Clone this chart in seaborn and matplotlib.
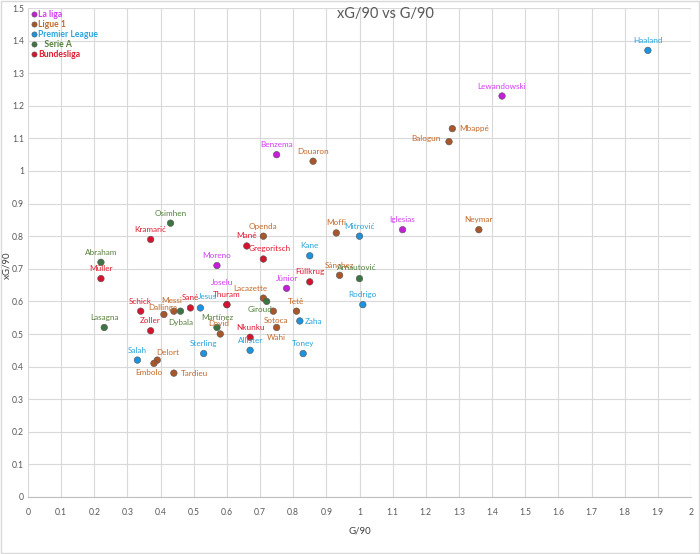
import pandas as pd
import seaborn as sns
from matplotlib import pyplot as plt
from matplotlib.ticker import MultipleLocator, FuncFormatter
from matplotlib.patches import Rectangle

sns.set_style('white')
plt.rcParams['font.family'] = ['Lato', 'DejaVu Sans']

# valeurs
leagues = ['La liga', 'Ligue 1', 'Premier League', 'Serie A', 'Bundesliga']

la_liga_names = ['Lewandowski', 'Iglesias', 'Benzema', 'Moreno', 'Júnior', 'Joselu']
la_liga_g = [1.43, 1.13, 0.75, 0.57, 0.78, 0.60]
la_liga_xg = [1.23, 0.82, 1.05, 0.71, 0.64, 0.59]

ligue1_names = ['Mbappé', 'Balogun', 'Neymar', 'Douaron', 'Openda', 'Moffi', 'Sánchez',
                'Lacazette', 'Tetê', 'Messi', 'Dallinga', 'Sotoca', 'Wahi', 'David',
                'Delort', 'Embolo', 'Tardieu']
ligue1_g = [1.28, 1.27, 1.36, 0.86, 0.71, 0.93, 0.94, 0.71, 0.81, 0.44, 0.41, 0.74, 0.75,
            0.58, 0.39, 0.38, 0.44]
ligue1_xg = [1.13, 1.09, 0.82, 1.03, 0.80, 0.81, 0.68, 0.61, 0.57, 0.57, 0.56, 0.57, 0.52,
             0.50, 0.42, 0.41, 0.38]

pl_names = ['Haaland', 'Mitrović', 'Kane', 'Rodrigo', 'Jesus', 'Zaha', 'Toney', 'Allister',
            'Sterling', 'Salah']
pl_g = [1.87, 1.00, 0.85, 1.01, 0.52, 0.82, 0.83, 0.67, 0.53, 0.33]
pl_xg = [1.37, 0.80, 0.74, 0.59, 0.58, 0.54, 0.44, 0.45, 0.44, 0.42]

serie_a_names = ['Osimhen', 'Abraham', 'Arnautović', 'Giroud', 'Dybala', 'Lasagna', 'Martínez']
serie_a_g = [0.43, 0.22, 1.00, 0.72, 0.46, 0.23, 0.57]
serie_a_xg = [0.84, 0.72, 0.67, 0.60, 0.57, 0.52, 0.52]

bl_names = ['Kramarić', 'Müller', 'Mané', 'Gregoritsch', 'Füllkrug', 'Thuram', 'Sané',
            'Schick', 'Zoller', 'Nkunku']
bl_g = [0.37, 0.22, 0.66, 0.71, 0.85, 0.60, 0.49, 0.34, 0.37, 0.67]
bl_xg = [0.79, 0.67, 0.77, 0.73, 0.66, 0.59, 0.58, 0.57, 0.51, 0.49]

dot_colors = ['#C21FD6', '#A8562A', '#1B93DF', '#3E7444', '#D4142E']
text_colors = ['#D23CF2', '#C4692A', '#27A6DE', '#55803E', '#E41A30']

# position des étiquettes (px), au-dessus par défaut
label_pos = {
    'Mbappé': (7, 0, 'left'), 'Balogun': (-8, 3, 'right'), 'Gregoritsch': (6, 11, 'center'),
    'Lacazette': (-13, 10, 'center'), 'Giroud': (-7, -8, 'center'), 'Jesus': (7, 11, 'center'),
    'Dallinga': (-1, 7, 'center'), 'Dybala': (0, -11, 'center'), 'Joselu': (-5, 22, 'center'),
    'Delort': (10, 8, 'center'), 'Embolo': (-5, -9, 'center'), 'Tardieu': (7, 0, 'left'),
    'Sotoca': (3, -9, 'center'), 'Wahi': (0, -10, 'center'), 'Zaha': (5, -1, 'left'),
    'Arnautović': (-3, 11, 'center'), 'David': (-2, 11, 'center'), 'Messi': (-2, 11, 'center'),
}

frames = []
for lg, names, g, xg in zip(leagues,
                            [la_liga_names, ligue1_names, pl_names, serie_a_names, bl_names],
                            [la_liga_g, ligue1_g, pl_g, serie_a_g, bl_g],
                            [la_liga_xg, ligue1_xg, pl_xg, serie_a_xg, bl_xg]):
    frames.append(pd.DataFrame({'Joueur': names, 'G/90': g, 'xG/90': xg, 'Ligue': lg}))
df = pd.concat(frames, ignore_index=True)

fig = plt.figure(figsize=(7, 5.54), dpi=100)
ax = fig.add_axes([28 / 700, 1 - 497 / 554, 663 / 700, 489 / 554])

sns.scatterplot(data=df, x='G/90', y='xG/90', hue='Ligue', hue_order=leagues,
                palette=dot_colors, s=22, edgecolor='#555555', linewidth=0.4, ax=ax, zorder=3)

for _, row in df.iterrows():
    i = leagues.index(row['Ligue'])
    dx, dy, ha = label_pos.get(row['Joueur'], (0, 10, 'center'))
    ax.annotate(row['Joueur'], (row['G/90'], row['xG/90']), xytext=(dx * 0.72, dy * 0.72),
                textcoords='offset points', ha=ha, va='center', fontsize=5.9,
                color=text_colors[i], zorder=4)

ax.set_xlim(0, 2)
ax.set_ylim(0, 1.5)
ax.xaxis.set_major_locator(MultipleLocator(0.1))
ax.yaxis.set_major_locator(MultipleLocator(0.1))
fmt = FuncFormatter(lambda v, p: '{:g}'.format(round(v, 2)))
ax.xaxis.set_major_formatter(fmt)
ax.yaxis.set_major_formatter(fmt)
ax.tick_params(labelsize=6.2, colors='#595959', length=0)
ax.tick_params(axis='x', pad=8)
ax.tick_params(axis='y', pad=3)
ax.grid(True, color='#D9D9D9', linewidth=0.8)
ax.set_axisbelow(True)
for side in ['top', 'right', 'left']:
    ax.spines[side].set_visible(False)
ax.spines['bottom'].set_color('#BFBFBF')
ax.set_xlabel('G/90', fontsize=7, color='#404040', labelpad=7)
ax.set_ylabel('')
fig.text(7 / 700, 1 - 265 / 554, 'xG/90', rotation=90, ha='center', va='center',
         fontsize=7, color='#404040')

leg = ax.legend(loc='upper left', frameon=False, fontsize=6.2, handletextpad=0.0,
                labelspacing=0.1, borderaxespad=0.0, markerscale=0.8, borderpad=0.25,
                handlelength=0.9)
for t, c, lab in zip(leg.get_texts(), text_colors, leagues):
    t.set_color(c)
    t.set_fontweight('bold')
    if lab == 'Serie A':
        t.set_text('   Serie A')

fig.text(385 / 700, 1 - 14 / 554, 'xG/90 vs G/90', ha='center', va='center',
         fontsize=10.5, color='#595959')
fig.patches.append(Rectangle((0.001, 0.001), 0.997, 0.997, transform=fig.transFigure,
                             fill=False, edgecolor='#D9D9D9', linewidth=1))

fig.savefig('out.png', dpi=100)
